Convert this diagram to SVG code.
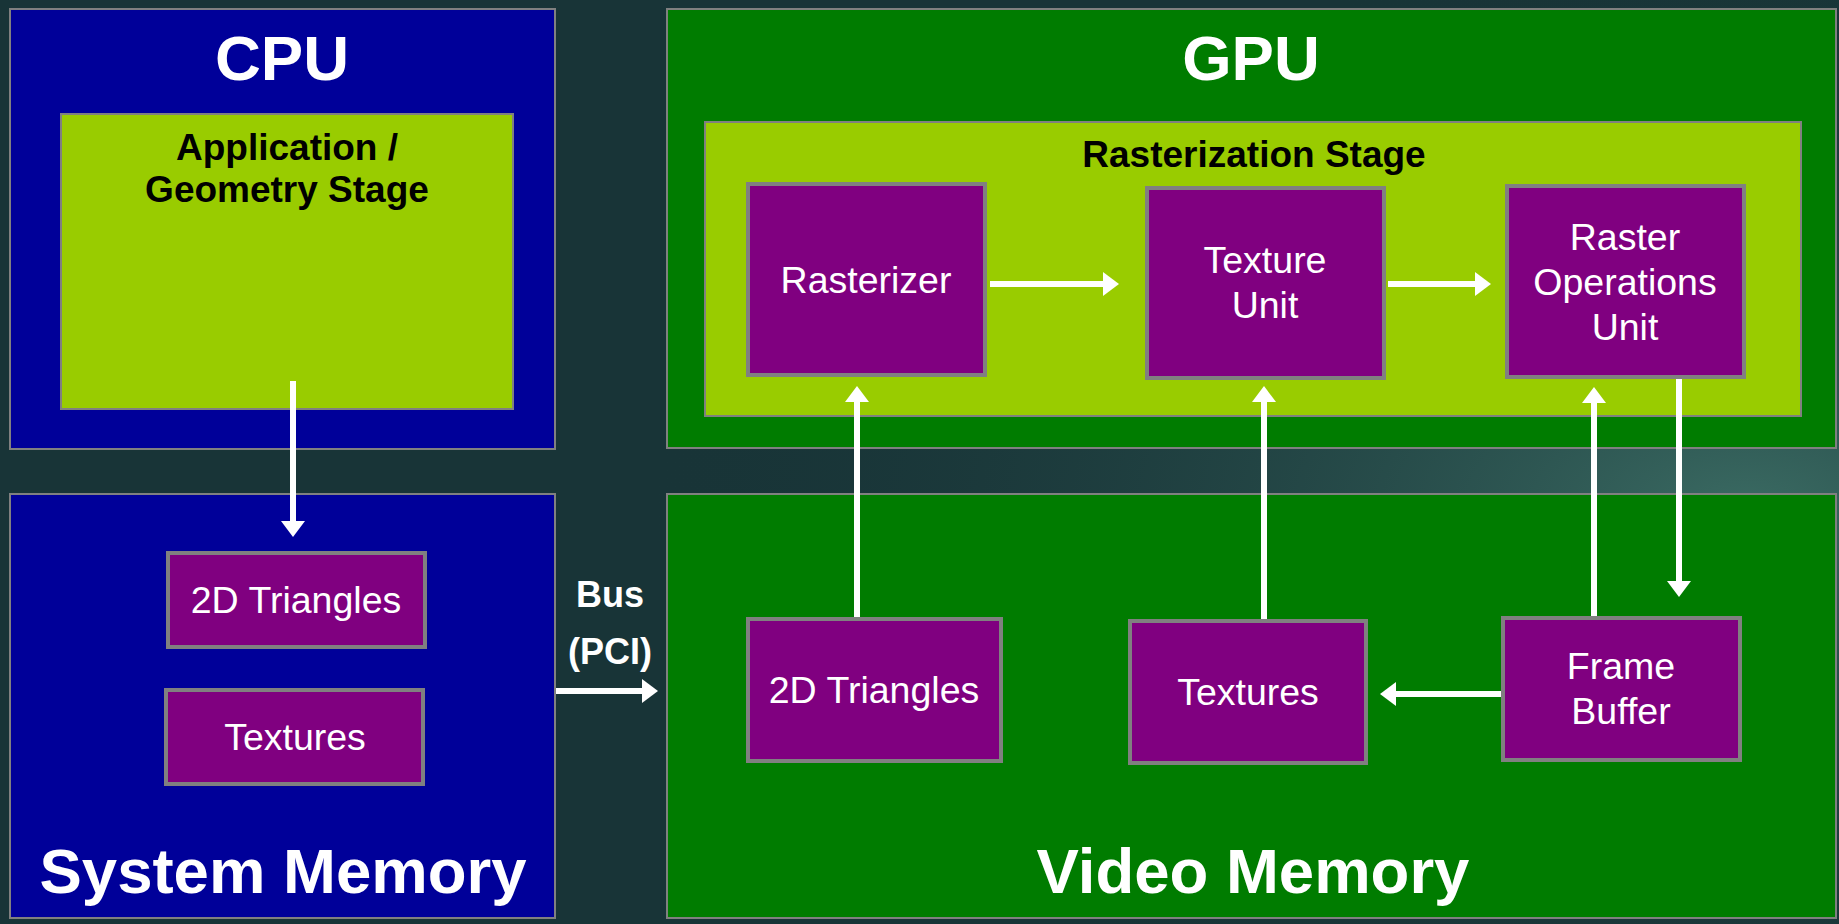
<svg xmlns="http://www.w3.org/2000/svg" width="1839" height="924" viewBox="0 0 1839 924" font-family="'Liberation Sans', Arial, sans-serif">
<defs>
<radialGradient id="bg1" cx="0.95" cy="0.55" r="0.6">
<stop offset="0" stop-color="#3a6a62"/>
<stop offset="1" stop-color="#183437" stop-opacity="0"/>
</radialGradient>
<marker id="ah" markerUnits="userSpaceOnUse" markerWidth="16" markerHeight="24" viewBox="0 0 16 24" refX="6" refY="12" orient="auto">
<path d="M0,0 L16,12 L0,24 z" fill="#ffffff"/>
</marker>
<style>
.outer{stroke:#808080;stroke-width:2}
.blue{fill:#000099}
.green{fill:#007c00}
.lime{fill:#99cc00;stroke:#808080;stroke-width:2}
.box{fill:#800080;stroke:#808080;stroke-width:4}
text{font-family:'Liberation Sans',Arial,sans-serif}
.big{font-weight:bold;font-size:63.5px;fill:#ffffff;text-anchor:middle}
.stage{font-weight:bold;font-size:37px;fill:#000000;text-anchor:middle}
.lbl{font-size:37.5px;fill:#ffffff;text-anchor:middle}
.bus{font-weight:bold;font-size:36px;fill:#ffffff;text-anchor:middle}
.conn line{stroke:#ffffff;stroke-width:6;marker-end:url(#ah)}
</style>
</defs>
<rect width="1839" height="924" fill="#183437"/>
<rect width="1839" height="924" fill="url(#bg1)"/>

<g id="cpu">
<rect class="outer blue" x="10" y="9" width="545" height="440"/>
<text class="big" x="282" y="80">CPU</text>
</g>
<g id="app-geometry">
<rect class="lime" x="61" y="114" width="452" height="295"/>
<text class="stage" x="287" y="160">Application /</text>
<text class="stage" x="287" y="202">Geometry Stage</text>
</g>
<g id="system-memory">
<rect class="outer blue" x="10" y="494" width="545" height="424"/>
<text class="big" x="283" y="893">System Memory</text>
</g>
<g id="sys-triangles">
<rect class="box" x="168" y="553" width="257" height="94"/>
<text class="lbl" x="296" y="613">2D Triangles</text>
</g>
<g id="sys-textures">
<rect class="box" x="166" y="690" width="257" height="94"/>
<text class="lbl" x="295" y="750">Textures</text>
</g>

<g id="gpu">
<rect class="outer green" x="667" y="9" width="1169" height="439"/>
<text class="big" x="1251" y="80">GPU</text>
</g>
<g id="rasterization-stage">
<rect class="lime" x="705" y="122" width="1096" height="294"/>
<text class="stage" x="1254" y="167">Rasterization Stage</text>
</g>
<g id="rasterizer">
<rect class="box" x="748" y="184" width="237" height="191"/>
<text class="lbl" x="866" y="293">Rasterizer</text>
</g>
<g id="texture-unit">
<rect class="box" x="1147" y="188" width="237" height="190"/>
<text class="lbl" x="1265" y="273">Texture</text>
<text class="lbl" x="1265" y="318">Unit</text>
</g>
<g id="rop">
<rect class="box" x="1507" y="186" width="237" height="191"/>
<text class="lbl" x="1625" y="250">Raster</text>
<text class="lbl" x="1625" y="295">Operations</text>
<text class="lbl" x="1625" y="340">Unit</text>
</g>

<g id="video-memory">
<rect class="outer green" x="667" y="494" width="1169" height="424"/>
<text class="big" x="1253" y="893">Video Memory</text>
</g>
<g id="vid-triangles">
<rect class="box" x="748" y="619" width="253" height="142"/>
<text class="lbl" x="874" y="703">2D Triangles</text>
</g>
<g id="vid-textures">
<rect class="box" x="1130" y="621" width="236" height="142"/>
<text class="lbl" x="1248" y="705">Textures</text>
</g>
<g id="frame-buffer">
<rect class="box" x="1503" y="618" width="237" height="142"/>
<text class="lbl" x="1621" y="679">Frame</text>
<text class="lbl" x="1621" y="724">Buffer</text>
</g>

<text class="bus" x="610" y="607">Bus</text>
<text class="bus" x="610" y="664">(PCI)</text>

<g id="connectors" class="conn">
<line x1="293" y1="381" x2="293" y2="527"/>
<line x1="556" y1="691" x2="648" y2="691"/>
<line x1="990" y1="284" x2="1109" y2="284"/>
<line x1="1388" y1="284" x2="1481" y2="284"/>
<line x1="857" y1="617" x2="857" y2="396"/>
<line x1="1264" y1="619" x2="1264" y2="396"/>
<line x1="1594" y1="616" x2="1594" y2="397"/>
<line x1="1679" y1="379" x2="1679" y2="587"/>
<line x1="1501" y1="694" x2="1390" y2="694"/>
</g>
</svg>
